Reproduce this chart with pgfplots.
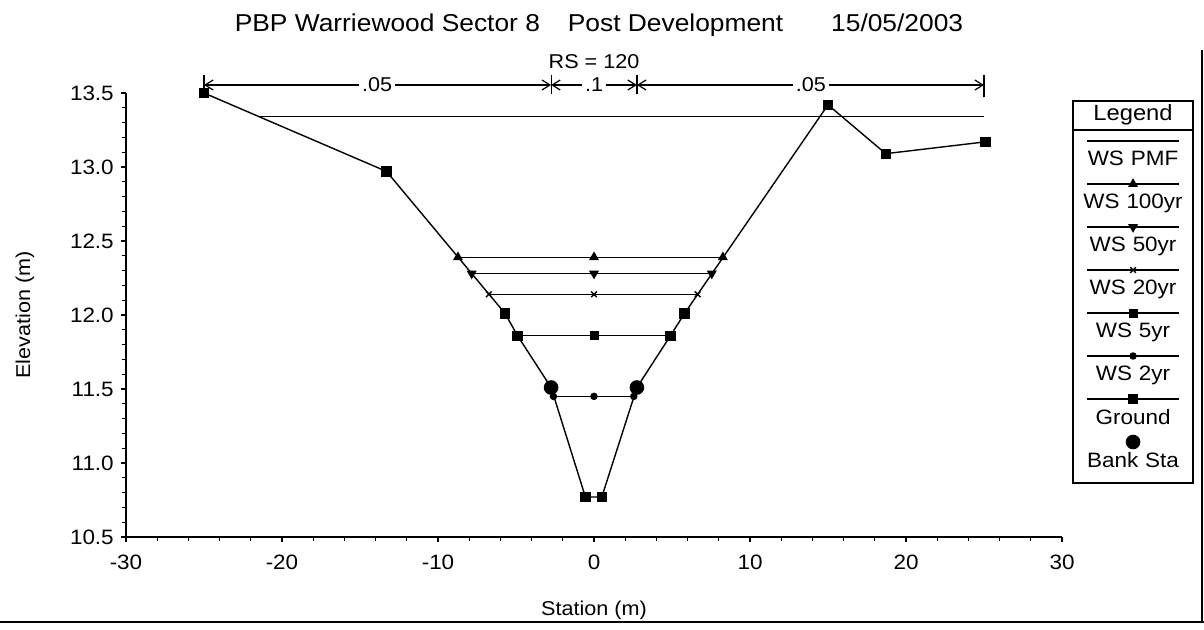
\documentclass[border=0pt]{standalone}
\usepackage{fontspec}
\setmainfont{Liberation Sans}[FakeStretch=1.08]
\usepackage{pgfplots}
\pgfplotsset{compat=1.18}
\usetikzlibrary{arrows.meta}

\begin{document}
\begin{tikzpicture}[font=\fontsize{10}{12}\selectfont]
  \useasboundingbox (0,0) rectangle (602pt,315pt);
  \begin{axis}[
    at={(63pt,46.5pt)}, anchor=south west,
    scale only axis, width=468pt, height=222pt,
    xmin=-30, xmax=30, ymin=10.5, ymax=13.5,
    axis x line*=bottom, axis y line*=left,
    axis line style={line width=0.7pt},
    tick align=outside,
    major tick length=2.6pt, minor tick length=2pt,
    tick style={line width=0.55pt, black},
    xtick={-30,-20,-10,0,10,20,30}, minor x tick num=4,
    ytick={10.5,11,11.5,12,12.5,13,13.5}, minor y tick num=4,
    y tick label style={/pgf/number format/.cd, fixed, fixed zerofill, precision=1},
    x tick label style={yshift=-3pt},
    /pgf/number format/assume math mode=true,
    tick label style={font=\fontsize{10.4}{12}\selectfont},
    clip=false,
    every axis plot/.append style={black, line width=0.7pt, mark options={solid, fill=black}},
    legend cell align=center,
    legend style={
      at={(axis description cs:1.0118,0.8975)}, anchor=north west,
      draw=none, fill=none, inner sep=0pt, outer sep=0pt,
      column sep=0pt, row sep=0pt,
      cells={anchor=center},
      nodes={text width=60pt, align=center, inner xsep=0pt, inner ysep=0pt,
        minimum height=21.5pt, font=\fontsize{10.4}{12}\selectfont},
    },
    legend image code/.code={
      \draw[overlay, mark repeat=2, mark phase=2, #1]
        plot coordinates {(7pt,9.5pt) (30pt,9.5pt) (53pt,9.5pt)};
    },
  ]
    % water surfaces
    \addplot[mark=none] coordinates {(-21.5,13.34) (25,13.34)};
    \addlegendentry{WS PMF}
    \addplot[mark=triangle*, mark size=2.2pt] coordinates {(-8.72,12.39) (0,12.39) (8.26,12.39)};
    \addlegendentry{WS 100yr}
    \addplot[mark=triangle*, mark size=2.2pt, mark options={rotate=180}] coordinates {(-7.84,12.28) (0,12.28) (7.55,12.28)};
    \addlegendentry{WS 50yr}
    \addplot[mark=x, mark size=2pt] coordinates {(-6.74,12.14) (0,12.14) (6.64,12.14)};
    \addlegendentry{WS 20yr}
    \addplot[mark=square*, mark size=1.9pt] coordinates {(-4.9,11.86) (0,11.86) (4.9,11.86)};
    \addlegendentry{WS 5yr}
    \addplot[mark=*, mark size=1.5pt] coordinates {(-2.6,11.45) (0,11.45) (2.55,11.45)};
    \addlegendentry{WS 2yr}
    % ground
    \addplot[mark=square*, mark size=2.2pt] coordinates {
      (-25,13.50) (-13.3,12.97) (-5.7,12.01) (-4.9,11.86) (-2.75,11.51)
      (-0.55,10.77) (0.5,10.77) (2.75,11.51) (4.9,11.86) (5.8,12.01)
      (15,13.42) (18.7,13.09) (25.1,13.17)};
    \addlegendentry{Ground}
    \addplot[only marks, mark=*, mark size=3.3pt] coordinates {(-2.75,11.51) (2.75,11.51)};
    \addlegendentry{Bank Sta}

    % Manning's n strip
    \draw[line width=0.6pt, {Straight Barb[length=4pt,width=5pt]}-{Straight Barb[length=4pt,width=5pt]}]
      (axis cs:-25,13.554) -- (axis cs:-2.75,13.554);
    \draw[line width=0.6pt, {Straight Barb[length=4pt,width=5pt]}-{Straight Barb[length=4pt,width=5pt]}]
      (axis cs:-2.75,13.554) -- (axis cs:2.75,13.554);
    \draw[line width=0.6pt, {Straight Barb[length=4pt,width=5pt]}-{Straight Barb[length=4pt,width=5pt]}]
      (axis cs:2.75,13.554) -- (axis cs:25,13.554);
    \draw[line width=0.6pt] (axis cs:-25,13.50) -- (axis cs:-25,13.62);
    \draw[line width=0.6pt] (axis cs:-2.75,13.49) -- (axis cs:-2.75,13.62);
    \draw[line width=0.6pt] (axis cs:2.75,13.49) -- (axis cs:2.75,13.62);
    \draw[line width=0.6pt] (axis cs:25,13.47) -- (axis cs:25,13.62);
    \node[fill=white, inner xsep=1.5pt, inner ysep=0.5pt] at (axis cs:-13.9,13.554) {.05};
    \node[fill=white, inner xsep=1.5pt, inner ysep=0.5pt] at (axis cs:0,13.554) {.1};
    \node[fill=white, inner xsep=1.5pt, inner ysep=0.5pt] at (axis cs:13.9,13.554) {.05};
  \end{axis}

  \begin{scope}[x=0.5pt, y=0.5pt]
    \node[font=\fontsize{12.2}{14}\selectfont] at (599,605)
      {PBP Warriewood Sector 8\hspace{14pt}Post Development\hspace{24pt}15/05/2003};
    \node at (594,568) {RS = 120};
    \node at (594,20) {Station (m)};
    \node[rotate=90] at (25,315) {Elevation (m)};
    % legend frame
    \draw[line width=0.7pt] (1073,529) rectangle (1193,147);
    \draw[line width=0.6pt] (1073,500) -- (1193,500);
    \node[font=\fontsize{11}{13}\selectfont] at (1133,515) {Legend};
    % page frame
    \draw[line width=0.9pt] (0,8) -- (1204,8);
    \draw[line width=0.9pt] (1202,8) -- (1202,580);
  \end{scope}
\end{tikzpicture}
\end{document}
